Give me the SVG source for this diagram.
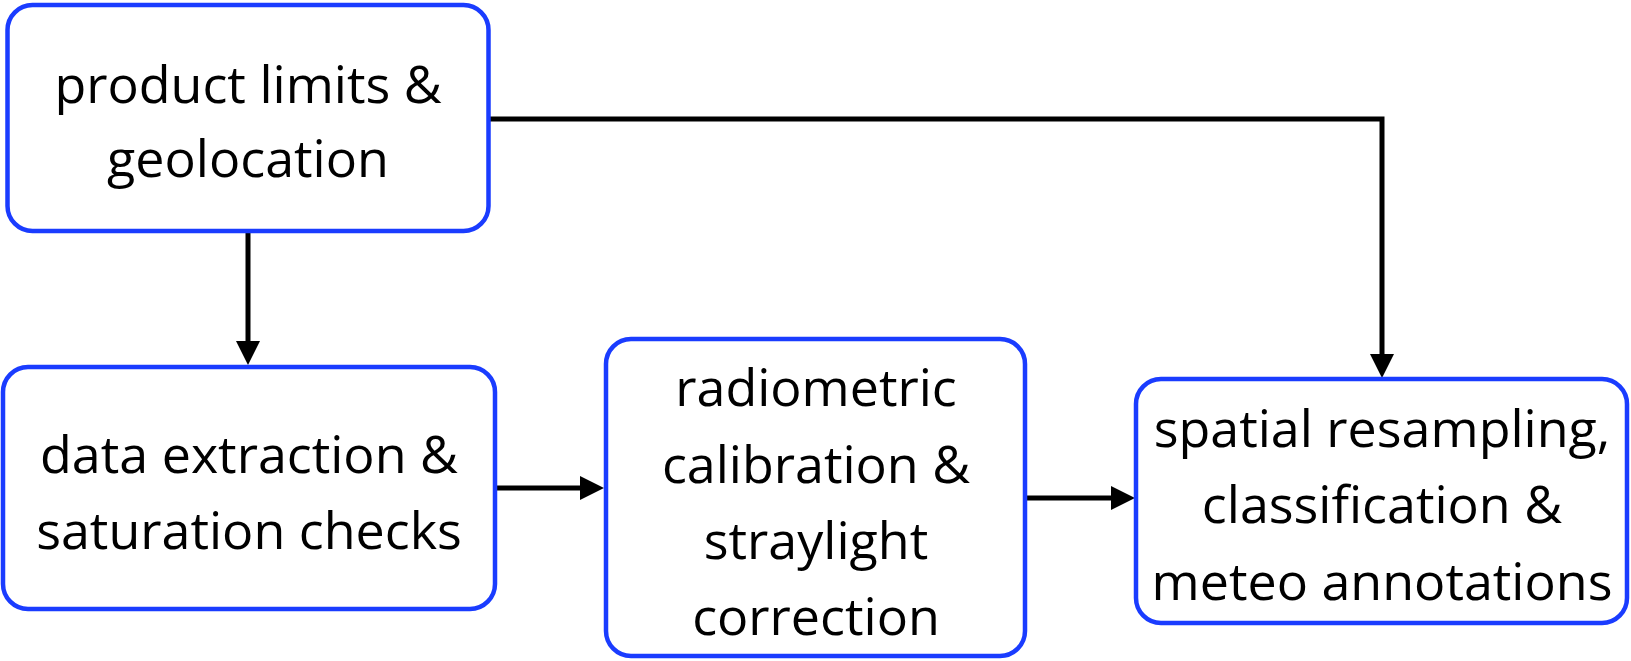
<svg xmlns="http://www.w3.org/2000/svg" width="1631" height="661" viewBox="0 0 1631 661">
  <style>
    .box { fill: #ffffff; stroke: #1a3cff; stroke-width: 4.5; }
    .lbl { font-family: "Open Sans", "DejaVu Sans", sans-serif; font-size: 52px; fill: #000000; text-anchor: middle; }
    .wire { fill: none; stroke: #000000; stroke-width: 5; }
  </style>
  <defs>
    <marker id="arrow" markerUnits="userSpaceOnUse" markerWidth="24" markerHeight="24" refX="4" refY="12" orient="auto">
      <path d="M0,0 L24,12 L0,24 Z" fill="#000000"/>
    </marker>
  </defs>
  <rect width="1631" height="661" fill="#ffffff"/>

  <g id="connectors">
    <line class="wire" x1="248" y1="231" x2="248" y2="345" marker-end="url(#arrow)"/>
    <line class="wire" x1="495" y1="488" x2="584" y2="488" marker-end="url(#arrow)"/>
    <line class="wire" x1="1025" y1="498" x2="1115" y2="498" marker-end="url(#arrow)"/>
    <path class="wire" d="M488,119 H1382 V358" marker-end="url(#arrow)"/>
  </g>

  <g id="product-limits">
    <rect class="box" x="7.5" y="5" width="481" height="226" rx="25"/>
    <text class="lbl" x="248" y="103">product limits &amp;</text>
    <text class="lbl" x="248" y="177">geolocation</text>
  </g>

  <g id="data-extraction">
    <rect class="box" x="3" y="367" width="492" height="242" rx="25"/>
    <text class="lbl" x="249" y="473">data extraction &amp;</text>
    <text class="lbl" x="249" y="549">saturation checks</text>
  </g>

  <g id="radiometric-calibration">
    <rect class="box" x="606" y="339" width="419" height="317" rx="25"/>
    <text class="lbl" x="816" y="406">radiometric</text>
    <text class="lbl" x="816" y="483">calibration &amp;</text>
    <text class="lbl" x="816" y="559">straylight</text>
    <text class="lbl" x="816" y="635">correction</text>
  </g>

  <g id="spatial-resampling">
    <rect class="box" x="1136" y="379" width="491" height="244" rx="25"/>
    <text class="lbl" x="1382" y="447">spatial resampling,</text>
    <text class="lbl" x="1382" y="523">classification &amp;</text>
    <text class="lbl" x="1382" y="600">meteo annotations</text>
  </g>
</svg>
